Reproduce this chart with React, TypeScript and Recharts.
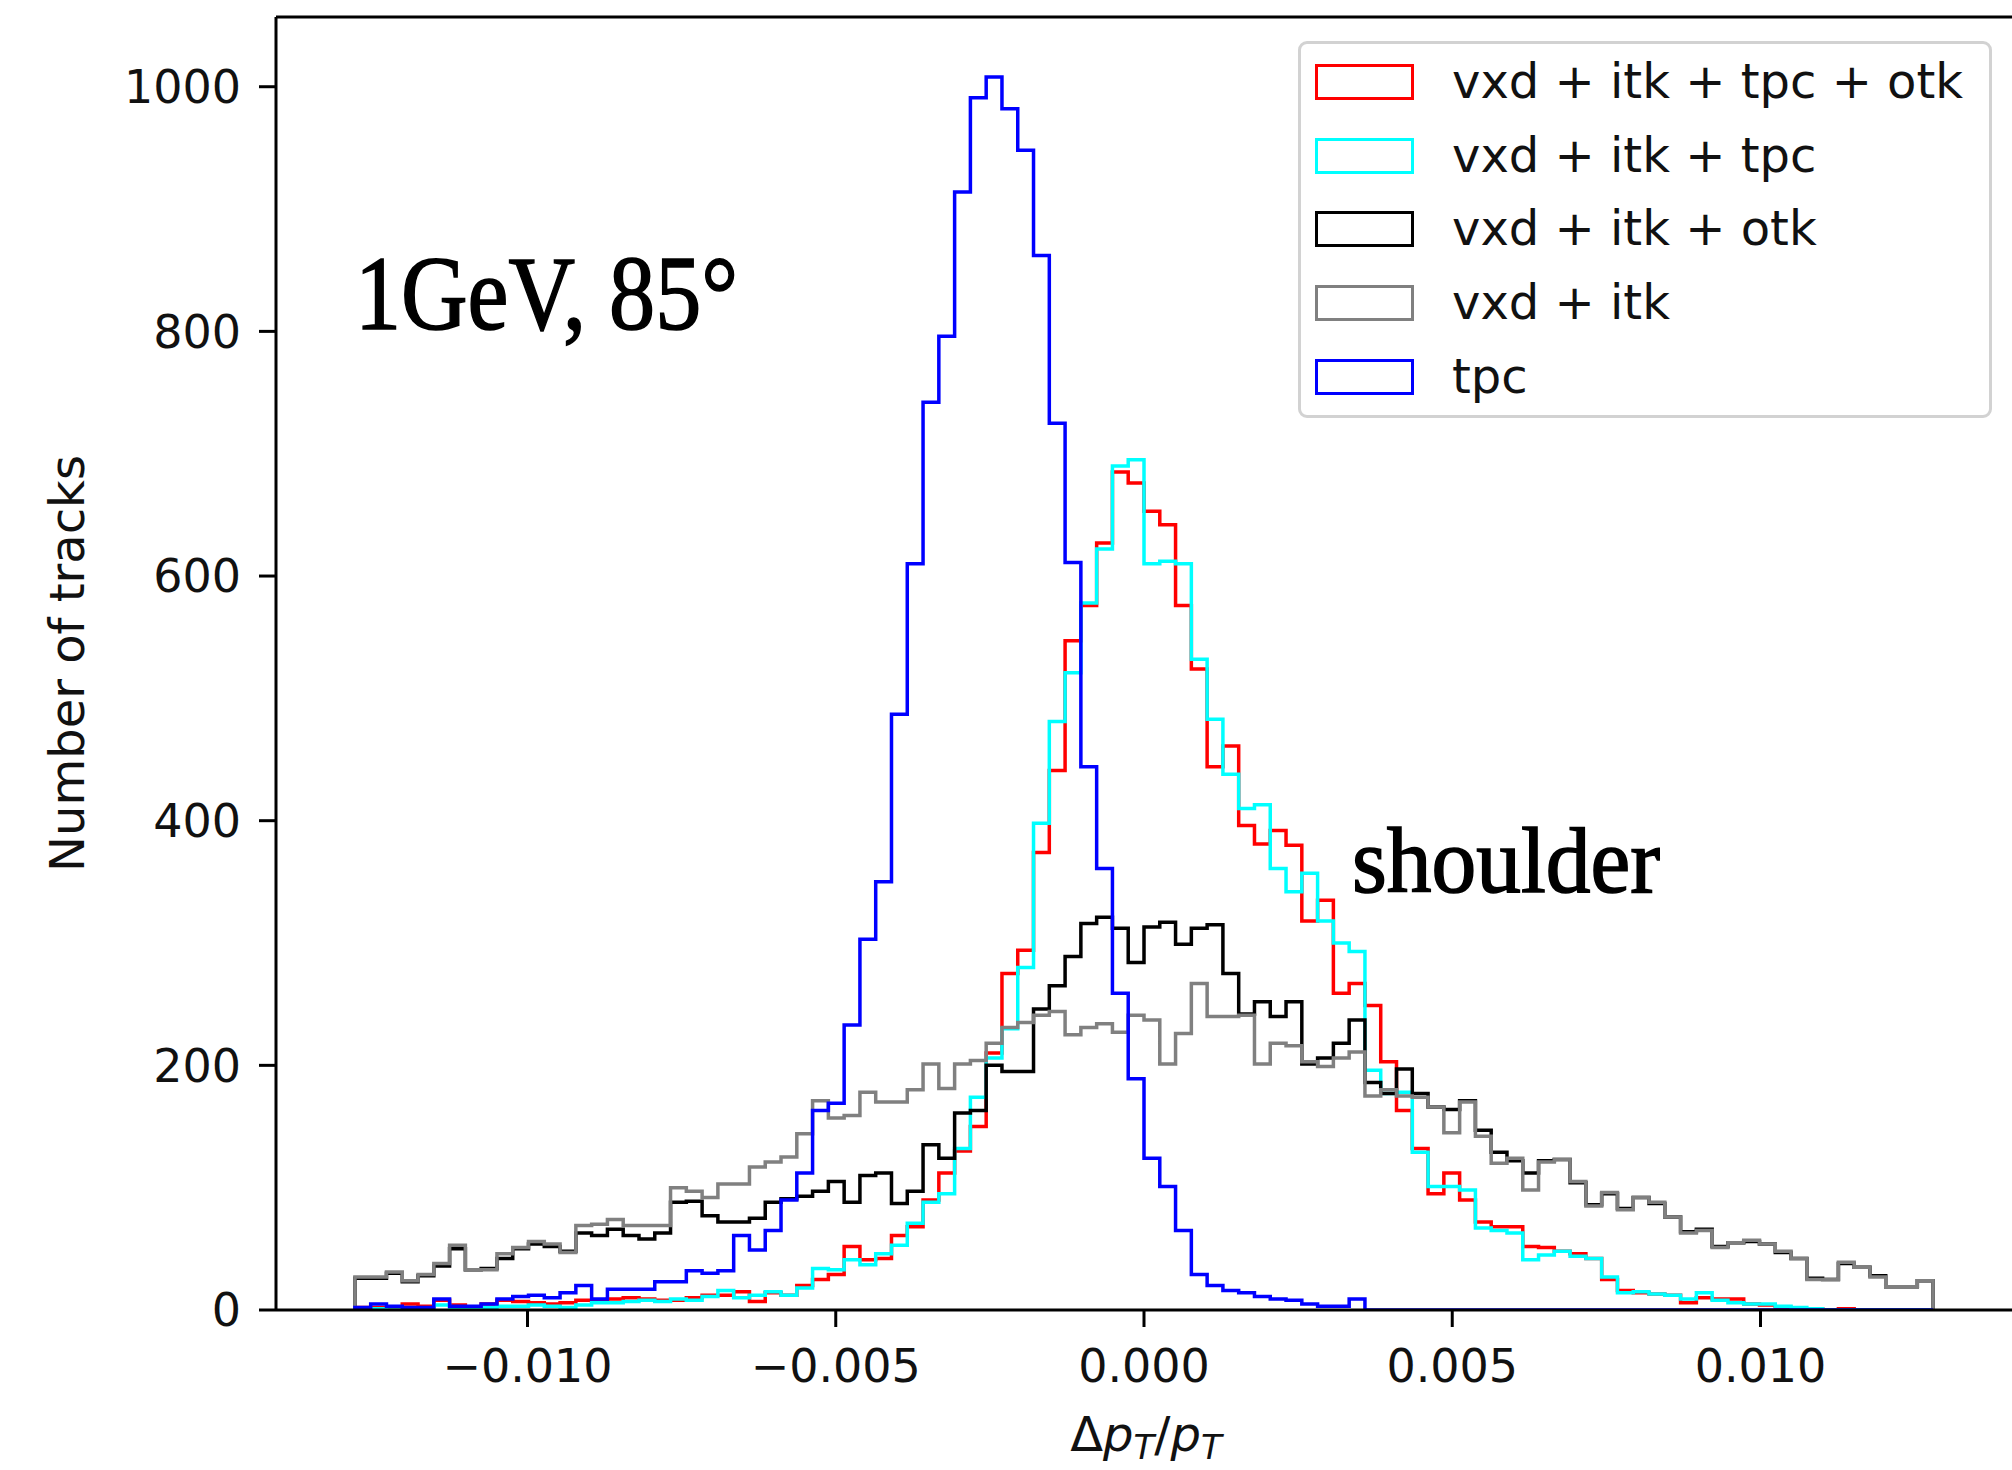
import React from 'react';
import {
  ComposedChart,
  Line,
  XAxis,
  YAxis,
  Legend,
  ReferenceLine,
  Customized,
} from 'recharts';

// histogram binning: 100 bins starting at -0.0128
const binLow = -0.0128;
const binWidth = 0.000256;

// counts per bin
const vxdItkTpcOtk = [
  2, 2, 1, 5, 3, 8, 4, 2, 5, 8, 7, 6, 5, 6, 8, 7, 9, 10, 9, 8,
  8, 10, 12, 12, 15, 7, 14, 12, 20, 25, 29, 52, 41, 42, 61, 68, 90, 112, 130, 150,
  210, 275, 294, 374, 441, 547, 576, 627, 685, 676, 653, 642, 576, 524, 444, 461, 396, 381, 392, 380,
  318, 335, 259, 267, 249, 203, 163, 132, 95, 112, 90, 72, 68, 68, 52, 51, 48, 46, 42, 25,
  16, 14, 13, 12, 6, 10, 9, 9, 5, 4, 2, 1, 1, 0, 1, 0, 0, 0, 0, 0,
];
const vxdItkTpc = [
  1, 1, 0, 1, 1, 4, 2, 1, 2, 3, 3, 4, 3, 2, 4, 6, 6, 7, 8, 7,
  9, 8, 11, 16, 10, 12, 15, 12, 18, 34, 33, 41, 37, 46, 53, 71, 88, 95, 132, 174,
  206, 230, 280, 398, 481, 521, 578, 622, 690, 695, 610, 612, 610, 532, 483, 438, 410, 413, 361, 342,
  357, 318, 300, 293, 196, 177, 178, 129, 101, 101, 98, 67, 65, 63, 41, 45, 48, 44, 42, 27,
  14, 15, 13, 12, 9, 14, 8, 6, 5, 5, 3, 2, 1, 0, 0, 0, 0, 0, 0, 0,
];
const vxdItkOtk = [
  26, 26, 30, 23, 28, 36, 50, 33, 34, 42, 50, 54, 52, 48, 63, 61, 66, 61, 58, 63,
  88, 89, 77, 72, 72, 75, 88, 91, 93, 97, 105, 88, 110, 112, 87, 97, 135, 124, 161, 163,
  200, 195, 195, 246, 265, 289, 316, 321, 312, 284, 313, 317, 299, 312, 315, 275, 242, 252, 240, 252,
  201, 206, 218, 237, 186, 177, 197, 177, 166, 164, 171, 147, 129, 122, 112, 122, 123, 104, 86, 95,
  83, 92, 87, 76, 64, 66, 52, 55, 56, 54, 47, 42, 26, 25, 38, 35, 28, 19, 19, 24,
];
const vxdItk = [
  27, 27, 31, 24, 29, 38, 53, 33, 33, 46, 51, 56, 54, 47, 69, 70, 74, 69, 69, 69,
  100, 97, 92, 103, 103, 117, 121, 125, 144, 171, 157, 159, 178, 170, 170, 180, 201, 181, 201, 204,
  218, 231, 235, 241, 244, 225, 231, 234, 227, 241, 237, 201, 226, 267, 240, 240, 241, 201, 218, 216,
  203, 199, 206, 211, 175, 180, 175, 174, 166, 145, 170, 142, 120, 124, 98, 121, 123, 105, 85, 96,
  82, 92, 88, 76, 63, 65, 51, 55, 57, 54, 48, 42, 25, 25, 39, 35, 27, 19, 19, 24,
];
const tpcOnly = [
  2, 5, 3, 2, 2, 9, 3, 3, 5, 9, 11, 12, 10, 14, 20, 9, 17, 17, 17, 23,
  23, 32, 30, 32, 61, 49, 65, 90, 112, 163, 169, 233, 303, 350, 487, 610, 742, 796, 914, 991,
  1008, 982, 948, 862, 725, 611, 444, 361, 259, 189, 124, 101, 65, 29, 20, 16, 14, 11, 9, 8,
  5, 3, 3, 9, 0, 0, 0, 0, 0, 0, 0, 0, 0, 0, 0, 0, 0, 0, 0, 0,
  0, 0, 0, 0, 0, 0, 0, 0, 0, 0, 0, 0, 0, 0, 0, 0, 0, 0, 0, 0,
];

const seriesNames = ['vxd + itk + tpc + otk', 'vxd + itk + tpc', 'vxd + itk + otk', 'vxd + itk', 'tpc'];
const xTicks = [-0.01, -0.005, 0, 0.005, 0.01];
const yTicks = [0, 200, 400, 600, 800, 1000];

const xDomain: [number, number] = [-0.01408, 0.01408];
const yDomain: [number, number] = [0, 1057];

const series = [
  { key: 's0', name: seriesNames[0], color: '#ff0000', counts: vxdItkTpcOtk },
  { key: 's1', name: seriesNames[1], color: '#00ffff', counts: vxdItkTpc },
  { key: 's2', name: seriesNames[2], color: '#000000', counts: vxdItkOtk },
  { key: 's3', name: seriesNames[3], color: '#808080', counts: vxdItk },
  { key: 's4', name: seriesNames[4], color: '#0000ff', counts: tpcOnly },
];

// step outline like matplotlib histtype='step': up from baseline, bins, back down
const nBins = tpcOnly.length;
const edge = (i: number) => binLow + i * binWidth;
const rows: Record<string, number>[] = [];
const zeroRow = (x: number) => {
  const r: Record<string, number> = { x };
  series.forEach((s) => (r[s.key] = 0));
  return r;
};
rows.push(zeroRow(edge(0)));
for (let i = 0; i < nBins; i++) {
  const r: Record<string, number> = { x: edge(i) };
  series.forEach((s) => (r[s.key] = s.counts[i]));
  rows.push(r);
}
rows.push(zeroRow(edge(nBins)));

const fmtX = (v: number) => {
  if (Math.abs(v) < 1e-12) return '0.000';
  return (v < 0 ? '\u2212' : '') + Math.abs(v).toFixed(3);
};

const SANS = "'DejaVu Sans', sans-serif";
const SERIF = "'Liberation Serif', 'DejaVu Serif', serif";

const LegendBox = (props: any) => {
  // keep the plotting order (red first), recharts hands the payload reversed
  const items = [...(props.payload || [])].sort(
    (a: any, b: any) => seriesNames.indexOf(a.value) - seriesNames.indexOf(b.value)
  );
  return (
    <div
      style={{
        position: 'relative',
        width: 694,
        height: 377,
        boxSizing: 'border-box',
        border: '3px solid #d2d2d2',
        borderRadius: 9,
        background: 'rgba(255,255,255,0.85)',
        fontFamily: SANS,
      }}
    >
      {items.map((it: any, i: number) => (
        <div key={i} style={{ position: 'absolute', left: 0, top: 38 + i * 73.7 - 18, height: 36, width: '100%' }}>
          <div
            style={{
              position: 'absolute',
              left: 14,
              top: 0,
              width: 99,
              height: 36,
              boxSizing: 'border-box',
              border: `3.5px solid ${it.color}`,
            }}
          />
          <div
            style={{
              position: 'absolute',
              left: 151,
              top: -12,
              fontSize: 48,
              lineHeight: '58px',
              color: '#111',
              whiteSpace: 'nowrap',
            }}
          >
            {it.value}
          </div>
        </div>
      ))}
    </div>
  );
};

const Annotations = () => (
  <g>
    <text
      x={355}
      y={329}
      fontFamily={SERIF}
      fontSize={106}
      textLength={383}
      lengthAdjust="spacingAndGlyphs"
      fill="#000"
      stroke="#000"
      strokeWidth={1.6}
    >
      1GeV, 85°
    </text>
    <text
      x={1352}
      y={892}
      fontFamily={SERIF}
      fontSize={93}
      textLength={308}
      lengthAdjust="spacingAndGlyphs"
      fill="#000"
      stroke="#000"
      strokeWidth={1.6}
    >
      shoulder
    </text>
    <text
      x={84}
      y={663.5}
      transform="rotate(-90 84 663.5)"
      textAnchor="middle"
      fontFamily={SANS}
      fontSize={48}
      fill="#111"
    >
      Number of tracks
    </text>
    <text x={1146} y={1451} textAnchor="middle" fontFamily={SANS} fontSize={48} fill="#111">
      <tspan>Δ</tspan>
      <tspan fontStyle="italic">p</tspan>
      <tspan fontStyle="italic" fontSize={34} dy={8}>T</tspan>
      <tspan dy={-8}>/</tspan>
      <tspan fontStyle="italic">p</tspan>
      <tspan fontStyle="italic" fontSize={34} dy={8}>T</tspan>
    </text>
  </g>
);

export default function App() {
  return (
    <div style={{ position: 'absolute', left: 0, top: 0, width: 2012, height: 1470, background: '#fff' }}>
      <ComposedChart
        width={2012}
        height={1470}
        data={rows}
        margin={{ top: 17, right: 0, left: 0, bottom: 0 }}
      >
        <XAxis
          dataKey="x"
          type="number"
          domain={xDomain}
          allowDataOverflow
          ticks={xTicks}
          tickFormatter={fmtX}
          height={160}
          axisLine={{ stroke: '#000', strokeWidth: 3 }}
          tickLine={{ stroke: '#000', strokeWidth: 3 }}
          tickSize={17}
          tickMargin={22}
          tick={{ fill: '#111', fontSize: 46, fontFamily: SANS }}
        />
        <YAxis
          type="number"
          domain={yDomain}
          allowDataOverflow
          ticks={yTicks}
          width={276}
          axisLine={{ stroke: '#000', strokeWidth: 3 }}
          tickLine={{ stroke: '#000', strokeWidth: 3 }}
          tickSize={17}
          tickMargin={18}
          tick={{ fill: '#111', fontSize: 46, fontFamily: SANS }}
        />
        <ReferenceLine y={yDomain[1]} stroke="#000" strokeWidth={3} ifOverflow="visible" />
        {series.map((s) => (
          <Line
            key={s.key}
            dataKey={s.key}
            name={s.name}
            type="stepAfter"
            stroke={s.color}
            strokeWidth={3.5}
            dot={false}
            activeDot={false}
            isAnimationActive={false}
          />
        ))}
        <Legend
          layout="horizontal"
          verticalAlign="middle"
          align="center"
          content={<LegendBox />}
          wrapperStyle={{ left: 1298, top: 41, width: 694, height: 377 }}
        />
        <Customized component={<Annotations />} />
      </ComposedChart>
    </div>
  );
}
